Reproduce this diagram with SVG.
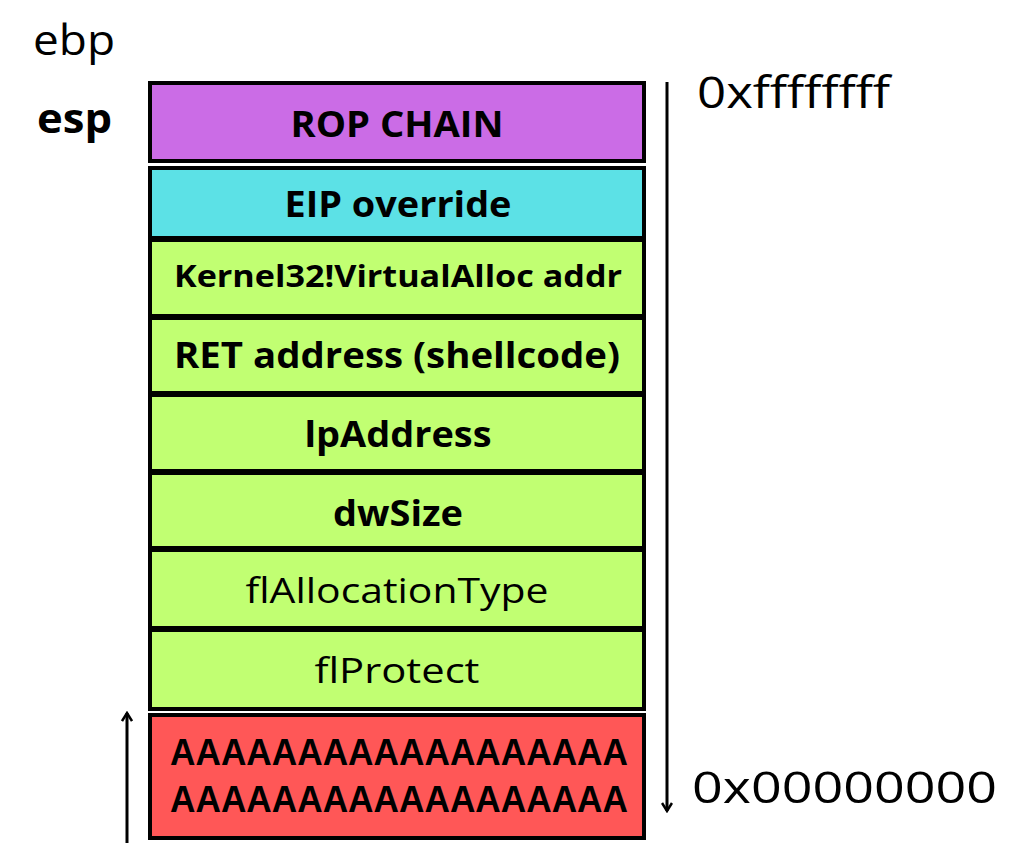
<svg xmlns="http://www.w3.org/2000/svg" width="1013" height="843" viewBox="0 0 1013 843">
<style>
.box{stroke:#000;stroke-width:4}
.b{font-family:"Open Sans","Liberation Sans",sans-serif;font-weight:700;fill:#000;text-anchor:middle}
.r{font-family:"Open Sans","Liberation Sans",sans-serif;font-weight:400;fill:#000;text-anchor:middle}
.lbl{font-family:"Open Sans","Liberation Sans",sans-serif;fill:#000}
.a{font-family:"Liberation Sans",Arial,sans-serif;font-weight:700;fill:#000;text-anchor:middle}
.arr{stroke:#000;stroke-width:3;fill:none}
</style>
<defs>
<marker id="head" viewBox="0 0 12 12" refX="10" refY="6" markerWidth="12" markerHeight="12" markerUnits="userSpaceOnUse" orient="auto">
<polyline points="2,1 10,6 2,11" fill="none" stroke="#000" stroke-width="2.5"/>
</marker>
</defs>
<rect width="1013" height="843" fill="#fff"/>
<g id="labels">
<text class="lbl" x="33" y="55" font-size="42" textLength="82" lengthAdjust="spacingAndGlyphs">ebp</text>
<text class="lbl" x="37" y="133" font-size="42" font-weight="700" textLength="75" lengthAdjust="spacingAndGlyphs">esp</text>
<text class="lbl" x="697" y="108" font-size="44" textLength="193" lengthAdjust="spacingAndGlyphs">0xffffffff</text>
<text class="lbl" x="692" y="803" font-size="44" textLength="305" lengthAdjust="spacingAndGlyphs">0x00000000</text>
</g>
<g id="rop"><rect class="box" x="150" y="83" width="494" height="78" fill="#CB6CE6"/><text class="b" x="397" y="137" font-size="36" textLength="213" lengthAdjust="spacingAndGlyphs">ROP CHAIN</text></g>
<g id="eip"><rect class="box" x="150" y="168" width="494" height="70" fill="#5CE1E6"/><text class="b" x="398" y="217" font-size="36" textLength="227" lengthAdjust="spacingAndGlyphs">EIP override</text></g>
<g id="kernel32"><rect class="box" x="150" y="240" width="494" height="76" fill="#C1FF72"/><text class="b" x="398" y="287" font-size="30" textLength="448" lengthAdjust="spacingAndGlyphs">Kernel32!VirtualAlloc addr</text></g>
<g id="ret"><rect class="box" x="150" y="318" width="494" height="75" fill="#C1FF72"/><text class="b" x="397" y="368" font-size="35" textLength="446" lengthAdjust="spacingAndGlyphs">RET address (shellcode)</text></g>
<g id="lpaddress"><rect class="box" x="150" y="395" width="494" height="76" fill="#C1FF72"/><text class="b" x="398" y="447" font-size="35" textLength="187" lengthAdjust="spacingAndGlyphs">lpAddress</text></g>
<g id="dwsize"><rect class="box" x="150" y="473" width="494" height="75" fill="#C1FF72"/><text class="b" x="398" y="526" font-size="35" textLength="130" lengthAdjust="spacingAndGlyphs">dwSize</text></g>
<g id="flalloc"><rect class="box" x="150" y="550" width="494" height="78" fill="#C1FF72"/><text class="r" x="397" y="603" font-size="35" textLength="303" lengthAdjust="spacingAndGlyphs">flAllocationType</text></g>
<g id="flprotect"><rect class="box" x="150" y="630" width="494" height="79" fill="#C1FF72"/><text class="r" x="397" y="683" font-size="35" textLength="165" lengthAdjust="spacingAndGlyphs">flProtect</text></g>
<g id="buffer"><rect class="box" x="150" y="715" width="494" height="123" fill="#FF5757"/>
<text class="a" x="399" y="765" font-size="36" textLength="458" lengthAdjust="spacingAndGlyphs">AAAAAAAAAAAAAAAAAA</text>
<text class="a" x="399" y="812" font-size="36" textLength="458" lengthAdjust="spacingAndGlyphs">AAAAAAAAAAAAAAAAAA</text></g>
<g id="connectors">
<line class="arr" x1="667" y1="82" x2="667" y2="811" marker-end="url(#head)"/>
<line class="arr" x1="127" y1="843" x2="127" y2="713" marker-end="url(#head)"/>
</g>
</svg>
